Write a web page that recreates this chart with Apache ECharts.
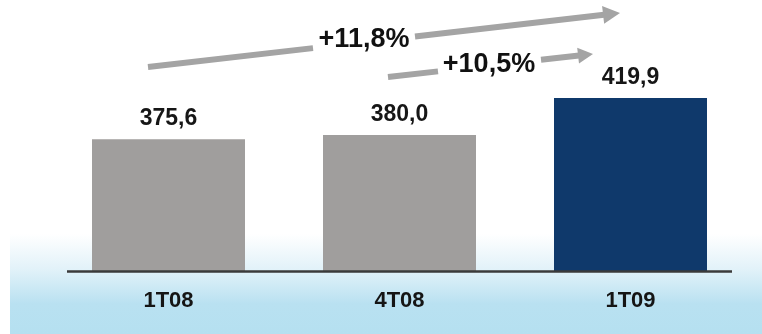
<!DOCTYPE html>
<html><head><meta charset="utf-8">
<script src="https://cdn.jsdelivr.net/npm/echarts@6/dist/echarts.min.js"></script>
<style>html,body{margin:0;padding:0;background:#fff}#c{width:762px;height:334px}</style>
</head><body><div id="c"></div>
<script>
var categories = ['1T08', '4T08', '1T09'];
var values = [375.6, 380.0, 419.9];
var barColors = ['#a09e9d', '#a09e9d', '#0f396b'];
var growthLabels = ['+11,8%', '+10,5%'];
var FONT = 'Arial, "Liberation Sans", sans-serif';

function fmt(v){ return v.toFixed(1).replace('.', ','); }

function arrow(x0,y0,x1,y1,gapA,gapB,headLen,headHalf){
  var dx=x1-x0, dy=y1-y0, L=Math.sqrt(dx*dx+dy*dy), ux=dx/L, uy=dy/L, px=-uy, py=ux;
  var bx=x1-ux*headLen, by=y1-uy*headLen;
  function yAt(x){ return y0+(x-x0)*dy/dx; }
  var st={stroke:'#a4a4a4', lineWidth:6, lineCap:'butt'};
  return [
    {type:'line', z:5, shape:{x1:x0,y1:y0,x2:gapA,y2:yAt(gapA)}, style:st},
    {type:'line', z:5, shape:{x1:gapB,y1:yAt(gapB),x2:bx+ux,y2:by+uy}, style:st},
    {type:'polygon', z:5, shape:{points:[[x1,y1],[bx+px*headHalf,by+py*headHalf],[bx-px*headHalf,by-py*headHalf]]}, style:{fill:'#a4a4a4'}}
  ];
}

var chart = echarts.init(document.getElementById('c'), null, {renderer:'canvas'});
var graphics = [
  {type:'rect', z:-10, shape:{x:10,y:234,width:752,height:100},
   style:{fill:new echarts.graphic.LinearGradient(0,0,0,1,[
     {offset:0,color:'rgba(255,255,255,1)'},
     {offset:0.35,color:'#e2f2f9'},
     {offset:0.7,color:'#b9e1f1'},
     {offset:1,color:'#b5e0f0'}])}},
  {type:'line', z:10, shape:{x1:67,y1:271.5,x2:732,y2:271.5}, style:{stroke:'#3a3a3a', lineWidth:2.5}}
].concat(arrow(148,67,620,13,313,415,17,9))
 .concat(arrow(388,77,593,54,438,541,15,8))
 .concat([
  {type:'text', z:6, x:364, y:40, style:{text:growthLabels[0], font:'bold 27px '+FONT, fill:'#111', align:'center', verticalAlign:'middle'}},
  {type:'text', z:6, x:489, y:65, style:{text:growthLabels[1], font:'bold 27px '+FONT, fill:'#111', align:'center', verticalAlign:'middle'}}
 ]);

chart.setOption({
  animation:false,
  backgroundColor:'#ffffff',
  grid:{left:53, right:16, top:0, bottom:63},
  xAxis:{type:'category', data:categories,
    axisLine:{show:false}, axisTick:{show:false},
    axisLabel:{margin:19, fontSize:22, fontWeight:'bold', color:'#151515', fontFamily:FONT}},
  yAxis:{type:'value', min:234, max:525, show:false, splitLine:{show:false}},
  series:[{type:'bar', barWidth:153,
    data:values.map(function(v,i){return {value:v, itemStyle:{color:barColors[i]}};}),
    label:{show:true, position:'top', distance:9, fontSize:23, fontWeight:'bold', color:'#161616', fontFamily:FONT,
      formatter:function(p){return fmt(p.value);}}
  }],
  graphic:graphics
});
</script></body></html>
